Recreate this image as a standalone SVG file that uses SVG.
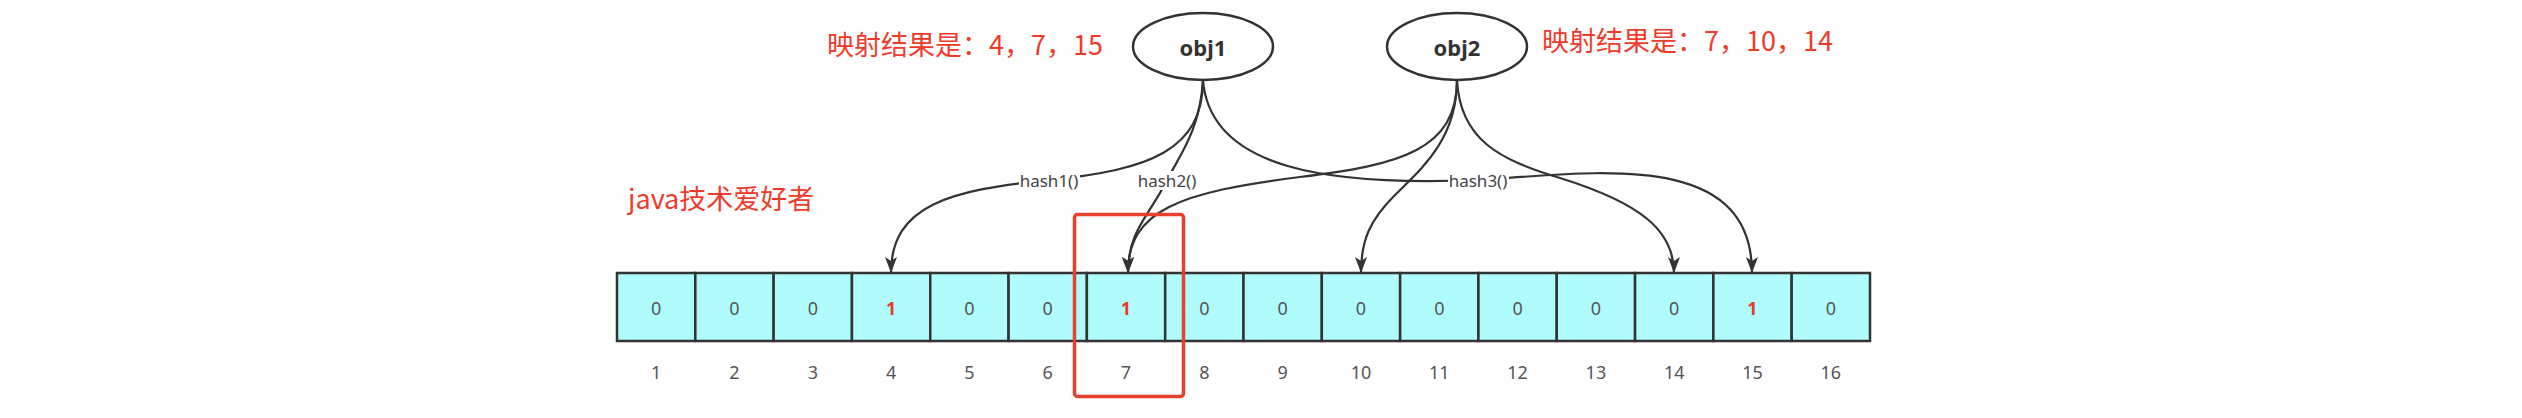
<svg xmlns="http://www.w3.org/2000/svg" width="2522" height="418" viewBox="0 0 2522 418">
<defs>
<style>
.cell{fill:#b0fcfc;stroke:#333;stroke-width:2.5}
.v{font-family:"Noto Sans","Noto Sans CJK SC",sans-serif;font-size:18px;fill:#555;text-anchor:middle;dominant-baseline:central}
.one{fill:#e8392d;font-weight:bold}
.idx{font-family:"Noto Sans","Noto Sans CJK SC",sans-serif;font-size:18px;fill:#555;text-anchor:middle;dominant-baseline:central}
.edge{fill:none;stroke:#333;stroke-width:2.2}
.lbl{font-family:"Noto Sans","Noto Sans CJK SC",sans-serif;font-size:17px;fill:#444;text-anchor:middle;dominant-baseline:central}
.lblbg{fill:#fff}
.obj{fill:#fff;stroke:#333;stroke-width:2.5}
.objt{font-family:"Noto Sans","Noto Sans CJK SC",sans-serif;font-size:22px;font-weight:bold;fill:#333;text-anchor:middle;dominant-baseline:central}
.red{font-family:"Noto Sans CJK SC","Noto Sans",sans-serif;font-size:27px;fill:#ef3b2c;dominant-baseline:central}
</style>
<marker id="arr" viewBox="0 0 16 12" refX="16" refY="6" markerWidth="16" markerHeight="12" markerUnits="userSpaceOnUse" orient="auto">
<path d="M0,0 L16,6 L0,12 L4,6 z" fill="#333"/>
</marker>
</defs>
<rect width="2522" height="418" fill="#fff"/>

<g id="array">
<rect class="cell" x="617" y="273" width="78.31" height="68"/>
<rect class="cell" x="695.31" y="273" width="78.31" height="68"/>
<rect class="cell" x="773.63" y="273" width="78.31" height="68"/>
<rect class="cell" x="851.94" y="273" width="78.31" height="68"/>
<rect class="cell" x="930.25" y="273" width="78.31" height="68"/>
<rect class="cell" x="1008.56" y="273" width="78.31" height="68"/>
<rect class="cell" x="1086.88" y="273" width="78.31" height="68"/>
<rect class="cell" x="1165.19" y="273" width="78.31" height="68"/>
<rect class="cell" x="1243.5" y="273" width="78.31" height="68"/>
<rect class="cell" x="1321.81" y="273" width="78.31" height="68"/>
<rect class="cell" x="1400.13" y="273" width="78.31" height="68"/>
<rect class="cell" x="1478.44" y="273" width="78.31" height="68"/>
<rect class="cell" x="1556.75" y="273" width="78.31" height="68"/>
<rect class="cell" x="1635.06" y="273" width="78.31" height="68"/>
<rect class="cell" x="1713.38" y="273" width="78.31" height="68"/>
<rect class="cell" x="1791.69" y="273" width="78.31" height="68"/>
<text class="v" x="656.2" y="308">0</text>
<text class="v" x="734.5" y="308">0</text>
<text class="v" x="812.8" y="308">0</text>
<text class="v one" x="891.1" y="308">1</text>
<text class="v" x="969.4" y="308">0</text>
<text class="v" x="1047.7" y="308">0</text>
<text class="v one" x="1126" y="308">1</text>
<text class="v" x="1204.3" y="308">0</text>
<text class="v" x="1282.7" y="308">0</text>
<text class="v" x="1361" y="308">0</text>
<text class="v" x="1439.3" y="308">0</text>
<text class="v" x="1517.6" y="308">0</text>
<text class="v" x="1595.9" y="308">0</text>
<text class="v" x="1674.2" y="308">0</text>
<text class="v one" x="1752.5" y="308">1</text>
<text class="v" x="1830.8" y="308">0</text>
</g>

<g id="indices">
<text class="idx" x="656.2" y="372">1</text>
<text class="idx" x="734.5" y="372">2</text>
<text class="idx" x="812.8" y="372">3</text>
<text class="idx" x="891.1" y="372">4</text>
<text class="idx" x="969.4" y="372">5</text>
<text class="idx" x="1047.7" y="372">6</text>
<text class="idx" x="1126" y="372">7</text>
<text class="idx" x="1204.3" y="372">8</text>
<text class="idx" x="1282.7" y="372">9</text>
<text class="idx" x="1361" y="372">10</text>
<text class="idx" x="1439.3" y="372">11</text>
<text class="idx" x="1517.6" y="372">12</text>
<text class="idx" x="1595.9" y="372">13</text>
<text class="idx" x="1674.2" y="372">14</text>
<text class="idx" x="1752.5" y="372">15</text>
<text class="idx" x="1830.8" y="372">16</text>
</g>

<g id="connectors">
<path class="edge" marker-end="url(#arr)" d="M1203,80 C1203,150 1150,170 1049,180 C950,190 891,205 891,273"/>
<path class="edge" marker-end="url(#arr)" d="M1203,80 C1200,130 1180,155 1167,180 C1150,215 1128,230 1128,273"/>
<path class="edge" marker-end="url(#arr)" d="M1203,80 C1210,170 1330,186 1478,180 C1600,172 1752,150 1752,273"/>
<path class="edge" marker-end="url(#arr)" d="M1457,80 C1457,150 1400,165 1300,177 C1180,192 1128,210 1128,273"/>
<path class="edge" marker-end="url(#arr)" d="M1457,80 C1457,140 1420,170 1395,195 C1370,220 1361,240 1361,273"/>
<path class="edge" marker-end="url(#arr)" d="M1457,80 C1460,140 1500,160 1560,178 C1640,203 1674,230 1674,273"/>
<rect class="lblbg" x="1019" y="171" width="61" height="19"/>
<text class="lbl" x="1049" y="180">hash1()</text>
<rect class="lblbg" x="1137" y="171" width="61" height="19"/>
<text class="lbl" x="1167" y="180">hash2()</text>
<rect class="lblbg" x="1448" y="171" width="61" height="19"/>
<text class="lbl" x="1478" y="180">hash3()</text>
</g>

<g id="obj1">
<ellipse class="obj" cx="1203" cy="46.5" rx="70" ry="33.5"/>
<text class="objt" x="1203" y="47">obj1</text>
</g>

<g id="obj2">
<ellipse class="obj" cx="1457" cy="46.5" rx="70" ry="33.5"/>
<text class="objt" x="1457" y="47">obj2</text>
</g>

<g id="highlight">
<rect x="1074.5" y="214.5" width="109" height="182" rx="3" fill="none" stroke="#e8402f" stroke-width="3.5"/>
</g>

<g id="notes">
<text class="red" x="827" y="43">映射结果是：4，7，15</text>
<text class="red" x="1542" y="39">映射结果是：7，10，14</text>
<text class="red" x="628" y="197">java技术爱好者</text>
</g>
</svg>
